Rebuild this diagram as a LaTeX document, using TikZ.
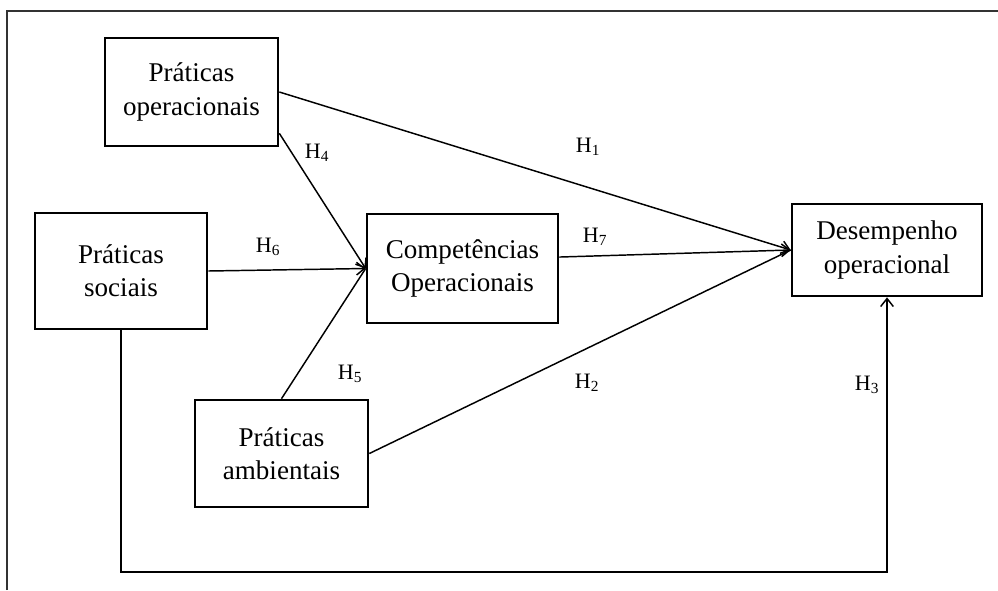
\documentclass[tikz,border=0pt]{standalone}
\usepackage{fontspec}
\setmainfont{Liberation Serif}
\usetikzlibrary{arrows.meta}
\begin{document}
\begin{tikzpicture}[x=0.75pt, y=-0.75pt,
  box/.style={draw, line width=2pt, inner sep=0pt, align=center,
    font=\fontsize{20.3}{25}\selectfont},
  conn/.style={line width=1.1pt, -{Straight Barb[length=6pt,width=9.5pt,line width=1.1pt]}},
  link/.style={line width=1.1pt},
  hyp/.style={inner sep=0pt, font=\fontsize{16.5}{19}\selectfont},
  frame/.style={line width=1.5pt, draw=black!80}]
  \useasboundingbox (0,0) rectangle (998,590);
  % outer frame
  \draw[frame] (7,590) -- (7,11) -- (998,11);

  % constructs
  \node[box, minimum width=129.75pt, minimum height=81pt] (op) at (191.5,92)
    {Práticas\\operacionais};
  \node[box, minimum width=129pt, minimum height=87pt] (soc) at (121,271)
    {Práticas\\sociais};
  \node[box, minimum width=143.25pt, minimum height=81.75pt] (comp) at (462.5,268.5)
    {Competências\\Operacionais};
  \node[box, minimum width=142.5pt, minimum height=69pt] (des) at (887,250)
    {Desempenho\\operacional};
  \node[box, minimum width=129.75pt, minimum height=80.25pt] (amb) at (281.5,453.5)
    {Práticas\\ambientais};

  % hypothesised paths
  \draw[conn] (op.east) -- (des.west);
  \draw[conn] ([yshift=10.5pt]op.south east) -- (comp.west);
  \draw[conn] (soc.east) -- (comp.west);
  \draw[link] (amb.north) -- (comp.west);
  \draw[conn] ([yshift=8.6pt]comp.east) -- (des.west);
  \draw[link] (amb.east) -- (des.west);
  \coordinate (bl) at (121,572);
  \coordinate (br) at (887,572);
  \draw[conn] (soc.south) -- (bl) -- (br) -- (des.south);

  % hypothesis labels
  \node[hyp] (h1) at (588,147) {H\textsubscript{1}};
  \node[hyp] (h7) at (595,237) {H\textsubscript{7}};
  \node[hyp] (h2) at (587,383) {H\textsubscript{2}};
  \node[hyp] (h4) at (317,153) {H\textsubscript{4}};
  \node[hyp] (h6) at (268,247) {H\textsubscript{6}};
  \node[hyp] (h5) at (350,374) {H\textsubscript{5}};
  \node[hyp] (h3) at (867,385) {H\textsubscript{3}};
\end{tikzpicture}
\end{document}
